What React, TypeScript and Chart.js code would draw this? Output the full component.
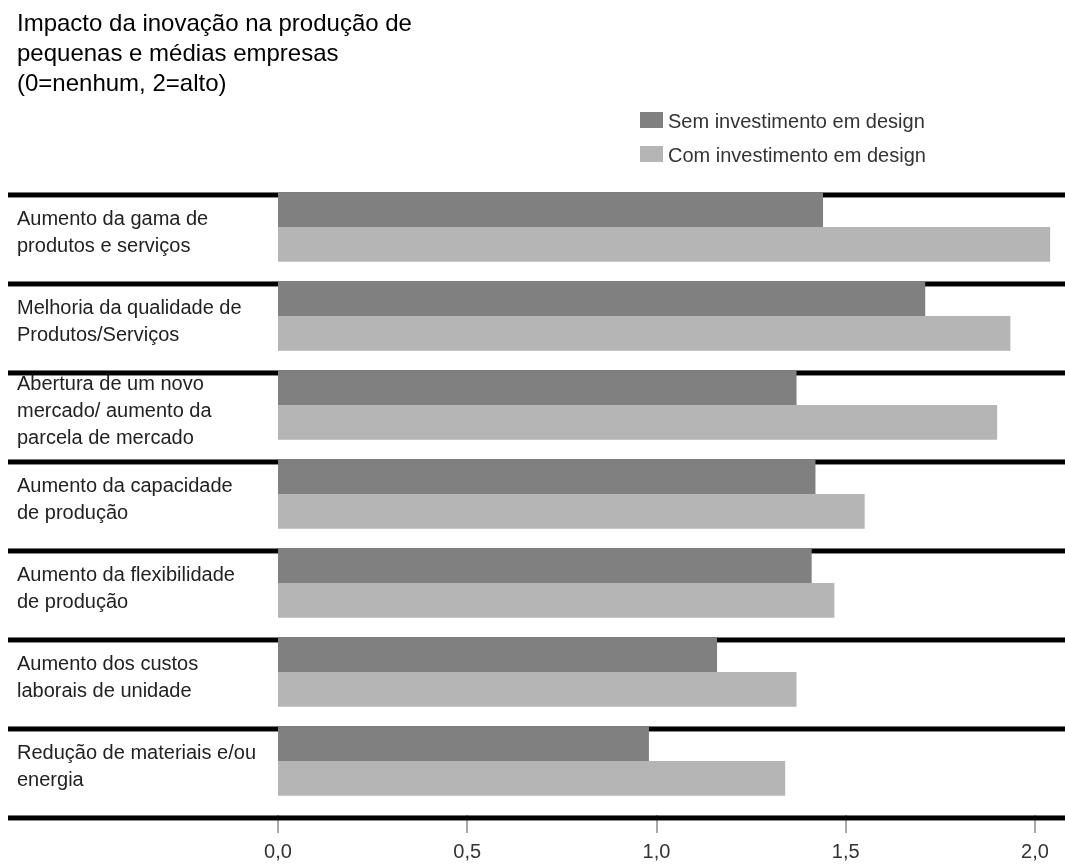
import { useEffect, useRef } from 'react';
import { Chart, registerables } from 'chart.js';

Chart.register(...registerables);

const FONT = '"Liberation Sans", Arial, Helvetica, sans-serif';

const titleLines = ['Impacto da inovação na produção de', 'pequenas e médias empresas', '(0=nenhum, 2=alto)'];

const categories = [
  ['Aumento da gama de', 'produtos e serviços'],
  ['Melhoria da qualidade de', 'Produtos/Serviços'],
  ['Abertura de um novo', 'mercado/ aumento da', 'parcela de mercado'],
  ['Aumento da capacidade', 'de produção'],
  ['Aumento da flexibilidade', 'de produção'],
  ['Aumento dos custos', 'laborais de unidade'],
  ['Redução de materiais e/ou', 'energia'],
];

const seriesNames = ['Sem investimento em design', 'Com investimento em design'];
const semDesign = [1.44, 1.71, 1.37, 1.42, 1.41, 1.16, 0.98];
const comDesign = [2.04, 1.935, 1.9, 1.55, 1.47, 1.37, 1.34];

const xTickValues = [0, 0.5, 1, 1.5, 2];
const xTickLabels = ['0,0', '0,5', '1,0', '1,5', '2,0'];

const DARK = '#808080';
const LIGHT = '#b5b5b5';

const separators = {
  id: 'separators',
  beforeDatasetsDraw(chart: any) {
    const { ctx, chartArea, scales } = chart;
    const x = scales.x;
    const n = chart.data.labels.length;
    const step = (chartArea.bottom - chartArea.top) / n;
    const off = step * 0.14;
    const bottomY = chartArea.top + n * step + off;
    ctx.save();
    ctx.strokeStyle = '#a8a8a8';
    ctx.lineWidth = 2;
    x.ticks.forEach((t: any) => {
      const px = Math.round(x.getPixelForValue(t.value));
      ctx.beginPath();
      ctx.moveTo(px, bottomY - 3);
      ctx.lineTo(px, bottomY + 15);
      ctx.stroke();
    });
    ctx.fillStyle = '#000';
    for (let i = 0; i <= n; i++) {
      const ly = chartArea.top + i * step + off;
      ctx.fillRect(0, ly - 2.5, chart.width, 5);
    }
    ctx.restore();
  },
};

const legendBox = {
  id: 'legendBox',
  afterDraw(chart: any) {
    const ctx = chart.ctx;
    ctx.save();
    ctx.font = `20px ${FONT}`;
    ctx.textBaseline = 'alphabetic';
    ctx.textAlign = 'left';
    chart.data.datasets.forEach((ds: any, i: number) => {
      const top = 104 + i * 34;
      ctx.fillStyle = ds.backgroundColor;
      ctx.fillRect(632, top, 23, 16);
      ctx.fillStyle = '#333';
      ctx.fillText(ds.label, 660, top + 16);
    });
    ctx.restore();
  },
};

export default function App() {
  const ref = useRef<HTMLCanvasElement>(null);

  useEffect(() => {
    const chart = new Chart(ref.current as HTMLCanvasElement, {
      type: 'bar',
      data: {
        labels: categories,
        datasets: [
          { label: seriesNames[0], data: semDesign, backgroundColor: DARK, clip: false as any },
          { label: seriesNames[1], data: comDesign, backgroundColor: LIGHT, clip: false as any },
        ],
      },
      options: {
        indexAxis: 'y',
        responsive: false,
        animation: false,
        layout: { padding: { left: 9, right: 30, top: 0, bottom: 0 } },
        datasets: { bar: { categoryPercentage: 0.78, barPercentage: 1 } },
        plugins: {
          legend: { display: false },
          tooltip: { enabled: false },
          title: {
            display: true,
            text: titleLines,
            align: 'start',
            color: '#000',
            font: { family: FONT, size: 24, weight: 'normal', lineHeight: 1.25 },
            padding: { top: 1, bottom: 83.5 },
          },
        },
        scales: {
          y: {
            type: 'category',
            grid: { display: false, drawTicks: false },
            border: { display: false },
            ticks: {
              crossAlign: 'far',
              labelOffset: 6,
              padding: 0,
              color: '#222',
              font: { family: FONT, size: 20, lineHeight: 1.35 },
            },
            afterFit(scale: any) {
              scale.width = 261;
            },
          },
          x: {
            type: 'linear',
            position: 'bottom',
            min: 0,
            max: 2,
            grid: { display: false, drawTicks: false },
            border: { display: false },
            ticks: {
              padding: 34.5,
              color: '#333',
              font: { family: FONT, size: 20 },
              callback: (_v: any, i: number) => xTickLabels[i] ?? '',
            },
            afterBuildTicks(scale: any) {
              scale.ticks = xTickValues.map((v) => ({ value: v }));
            },
            afterFit(scale: any) {
              scale.height = 60.5;
              scale.paddingLeft = 0;
              scale.paddingRight = 0;
            },
          },
        },
      },
      plugins: [separators, legendBox],
    } as any);
    return () => chart.destroy();
  }, []);

  return (
    <div style={{ position: 'absolute', left: 8, top: 8, width: 1057, height: 858 }}>
      <canvas ref={ref} width={1057} height={858} style={{ display: 'block' }} />
    </div>
  );
}
